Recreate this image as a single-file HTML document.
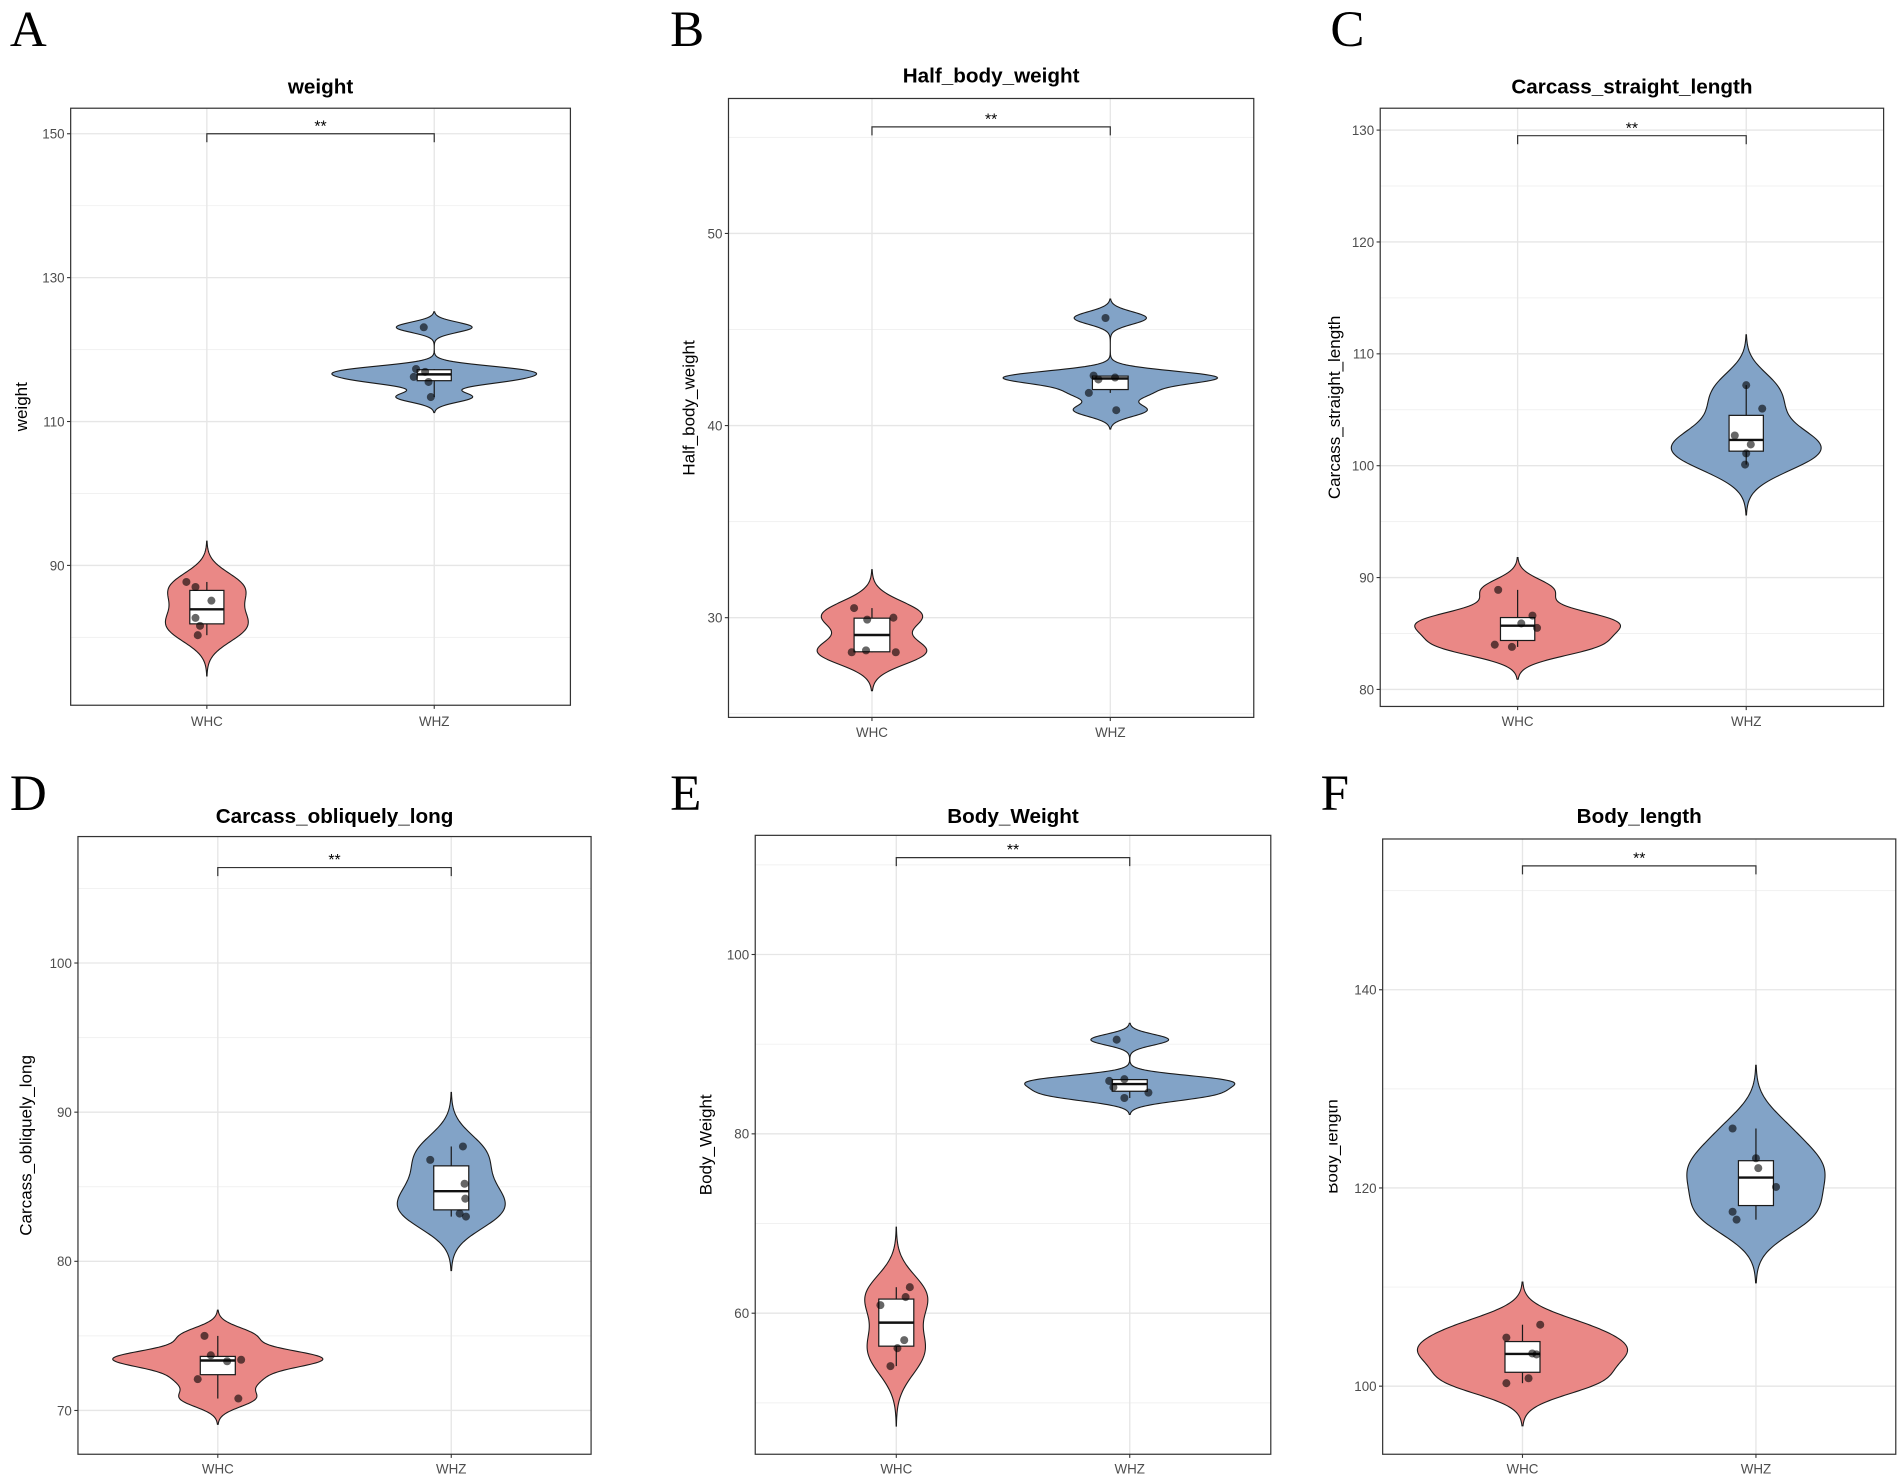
<!DOCTYPE html>
<html><head><meta charset="utf-8"><title>Violin plots</title>
<style>
html,body{margin:0;padding:0;background:#fff;}
svg{display:block;font-family:"Liberation Sans",Arial,sans-serif;}
</style></head>
<body>
<svg id="fig" width="1902" height="1481" viewBox="0 0 1564 1218" xmlns="http://www.w3.org/2000/svg">
<rect x="0" y="0" width="1564" height="1218" fill="#fff"/>
</svg>
<script>
// ---------- data ----------
const groups = ["WHC", "WHZ"];
const weightWHC = [87.7, 87.0, 85.1, 82.7, 81.6, 80.3];
const weightWHZ = [123.1, 117.3, 116.9, 116.2, 115.5, 113.4];
const halfWHC = [30.5, 30.0, 29.9, 28.2, 28.3, 28.2];
const halfWHZ = [45.6, 42.6, 42.4, 42.5, 41.7, 40.8];
const straightWHC = [88.9, 86.6, 85.9, 85.5, 84.0, 83.8];
const straightWHZ = [107.2, 105.1, 102.7, 101.9, 101.1, 100.1];
const obliqueWHC = [75.0, 73.7, 73.4, 73.3, 72.1, 70.8];
const obliqueWHZ = [87.7, 86.8, 85.2, 84.2, 83.2, 83.0];
const bodyWeightWHC = [62.9, 61.8, 60.9, 57.0, 56.1, 54.1];
const bodyWeightWHZ = [90.5, 86.1, 85.9, 85.2, 84.6, 84.0];
const bodyLengthWHC = [106.2, 104.9, 103.3, 103.2, 100.8, 100.3];
const bodyLengthWHZ = [126.0, 123.0, 122.0, 120.1, 117.6, 116.8];

const weightTicks = [90, 110, 130, 150];
const halfTicks = [30, 40, 50];
const straightTicks = [80, 90, 100, 110, 120, 130];
const obliqueTicks = [70, 80, 90, 100];
const bodyWeightTicks = [60, 80, 100];
const bodyLengthTicks = [100, 120, 140];

const bracketValues = [150, 55.55, 129.5, 106.4, 110.8, 152.5];
const signifLabels = ["**", "**", "**", "**", "**", "**"];

// jitter offsets (category units)
const jitterWeightWHC = [-0.09, -0.05, 0.02, -0.05, -0.03, -0.04];
const jitterWeightWHZ = [-0.046, -0.08, -0.04, -0.09, -0.025, -0.015];
const jitterHalfWHC = [-0.075, 0.09, -0.02, -0.085, -0.025, 0.1];
const jitterHalfWHZ = [-0.02, -0.07, -0.05, 0.02, -0.09, 0.025];
const jitterStraightWHC = [-0.085, 0.065, 0.016, 0.085, -0.1, -0.025];
const jitterStraightWHZ = [0, 0.07, -0.05, 0.02, 0, -0.005];
const jitterObliqueWHC = [-0.057, -0.03, 0.1, 0.04, -0.086, 0.088];
const jitterObliqueWHZ = [0.05, -0.09, 0.057, 0.06, 0.036, 0.063];
const jitterBodyWeightWHC = [0.058, 0.04, -0.068, 0.034, 0.005, -0.025];
const jitterBodyWeightWHZ = [-0.056, -0.023, -0.088, -0.07, 0.08, -0.023];
const jitterBodyLengthWHC = [0.076, -0.069, 0.042, 0.06, 0.026, -0.069];
const jitterBodyLengthWHZ = [-0.1, 0, 0.01, 0.086, -0.1, -0.083];

// ---------- layout (pixels, not data) ----------
const panels = [
 {key:"weight", title:"weight", letter:"A", lx:8, ly:38, x0:58, x1:469, y0:89, y1:580, cx:[170,357], t0:[90,465], t1:[150,110], tick:weightTicks, data:[weightWHC,weightWHZ], jit:[jitterWeightWHC,jitterWeightWHZ], labY:597, titleY:77, ylabX:22, clipX:0},
 {key:"half", title:"Half_body_weight", letter:"B", lx:551, ly:38, x0:599, x1:1031, y0:81, y1:590, cx:[717,913], t0:[30,508], t1:[50,192], tick:halfTicks, data:[halfWHC,halfWHZ], jit:[jitterHalfWHC,jitterHalfWHZ], labY:606, titleY:68, ylabX:571, clipX:0},
 {key:"straight", title:"Carcass_straight_length", letter:"C", lx:1094, ly:38, x0:1135, x1:1549, y0:89, y1:581, cx:[1248,1436], t0:[80,567], t1:[130,107], tick:straightTicks, data:[straightWHC,straightWHZ], jit:[jitterStraightWHC,jitterStraightWHZ], labY:597, titleY:77, ylabX:1102, clipX:0},
 {key:"oblique", title:"Carcass_obliquely_long", letter:"D", lx:8, ly:666, x0:64, x1:486, y0:688, y1:1196, cx:[179,371], t0:[70,1160], t1:[100,792], tick:obliqueTicks, data:[obliqueWHC,obliqueWHZ], jit:[jitterObliqueWHC,jitterObliqueWHZ], labY:1212, titleY:677, ylabX:26, clipX:0},
 {key:"bodyWeight", title:"Body_Weight", letter:"E", lx:551, ly:666, x0:621, x1:1045, y0:687, y1:1196, cx:[737,929], t0:[60,1080], t1:[100,785], tick:bodyWeightTicks, data:[bodyWeightWHC,bodyWeightWHZ], jit:[jitterBodyWeightWHC,jitterBodyWeightWHZ], labY:1212, titleY:677, ylabX:585, clipX:0},
 {key:"bodyLength", title:"Body_length", letter:"F", lx:1086, ly:666, x0:1137, x1:1559, y0:690, y1:1196, cx:[1252,1444], t0:[100,1140], t1:[140,814], tick:bodyLengthTicks, data:[bodyLengthWHC,bodyLengthWHZ], jit:[jitterBodyLengthWHC,jitterBodyLengthWHZ], labY:1212, titleY:677, ylabX:1100, clipX:1093}
];
const fills = ["#EA8886", "#82A3C7"];
const NS = "http://www.w3.org/2000/svg";
const svg = document.getElementById("fig");

function mk(tag, attrs, parent) {
  const e = document.createElementNS(NS, tag);
  for (const k in attrs) e.setAttribute(k, attrs[k]);
  (parent || svg).appendChild(e);
  return e;
}
function quantile(sorted, p) {
  const pos = (sorted.length - 1) * p, lo = Math.floor(pos), hi = Math.ceil(pos);
  return sorted[lo] + (sorted[hi] - sorted[lo]) * (pos - lo);
}
function sd(a) {
  const m = a.reduce((s, v) => s + v, 0) / a.length;
  return Math.sqrt(a.reduce((s, v) => s + (v - m) * (v - m), 0) / (a.length - 1));
}
function bwNrd0(a) {
  const s = a.slice().sort((x, y) => x - y);
  const iqr = quantile(s, 0.75) - quantile(s, 0.25);
  let lo = Math.min(sd(a), iqr / 1.34);
  if (!(lo > 0)) lo = sd(a) || 1;
  return 0.9 * lo * Math.pow(a.length, -0.2);
}
function dens(a, bw, y) {
  let s = 0;
  for (const v of a) { const z = (y - v) / bw; s += Math.exp(-0.5 * z * z); }
  return s / (a.length * bw * Math.sqrt(2 * Math.PI));
}

panels.forEach((P, pi) => {
  const g = mk("g", {});
  
  
  const yv = v => P.t0[1] + (v - P.t0[0]) * (P.t1[1] - P.t0[1]) / (P.t1[0] - P.t0[0]);
  const spacing = P.cx[1] - P.cx[0];
  const xc = (gi, off) => P.cx[gi] + off * spacing;

  const L = mk("text", {x:P.lx, y:P.ly, "font-family":"Liberation Serif, serif", "font-size":"42", fill:"#000"}, g);
  L.textContent = P.letter;
  
  
  const T = mk("text", {x:(P.x0 + P.x1) / 2, y:P.titleY, "text-anchor":"middle", "font-size":"17", "font-weight":"bold", fill:"#000"}, g);
  T.textContent = P.title;
  
  

  const step = P.tick[1] - P.tick[0];
  const gmin = P.tick[0] - step, gmax = P.tick[P.tick.length - 1] + step;
  for (let v = gmin; v <= gmax + 1e-9; v += step / 2) {
    const y = yv(v);
    if (y <= P.y0 + 1 || y >= P.y1 - 1) continue;
    const major = P.tick.some(t => Math.abs(t - v) < 1e-9);
    const ln = mk("line", {x1:P.x0, x2:P.x1, y1:y, y2:y, stroke:major ? "#e6e6e6" : "#f1f1f1", "stroke-width":major ? 1.1 : 0.8}, g);
    
    
  }
  P.cx.forEach(x => {
    const ln = mk("line", {x1:x, x2:x, y1:P.y0, y2:P.y1, stroke:"#e6e6e6", "stroke-width":1.1}, g);
    
    
  });

  P.tick.forEach(t => {
    const y = yv(t);
    const tk = mk("line", {x1:P.x0 - 3, x2:P.x0, y1:y, y2:y, stroke:"#333", "stroke-width":0.9}, g);
    
    
    const tl = mk("text", {x:P.x0 - 5, y:y + 4, "text-anchor":"end", "font-size":"11", fill:"#4d4d4d"}, g);
    tl.textContent = t;
    
    
  });
  groups.forEach((gname, gi) => {
    const tk = mk("line", {x1:P.cx[gi], x2:P.cx[gi], y1:P.y1, y2:P.y1 + 3, stroke:"#333", "stroke-width":0.9}, g);
    
    
    const tl = mk("text", {x:P.cx[gi], y:P.labY, "text-anchor":"middle", "font-size":"11", fill:"#4d4d4d"}, g);
    tl.textContent = gname;
    
    
  });
  const ymid = (P.y0 + P.y1) / 2;
  let ylabParent = g;
  if (P.clipX) {
    const cp = mk("clipPath", {id:"clip" + pi}, g);
    mk("rect", {x:P.clipX, y:P.y0, width:100, height:P.y1 - P.y0}, cp);
    ylabParent = mk("g", {"clip-path":"url(#clip" + pi + ")"}, g);
  }
  const YT = mk("text", {x:P.ylabX, y:ymid, "text-anchor":"middle", "font-size":"14", fill:"#000", transform:"rotate(-90 " + P.ylabX + " " + ymid + ")"}, ylabParent);
  YT.textContent = P.title;
  
  

  const stats = P.data.map(arr => {
    const bw = bwNrd0(arr);
    const lo = Math.min(...arr) - 3 * bw, hi = Math.max(...arr) + 3 * bw;
    const ys = [], ds = [];
    for (let i = 0; i <= 160; i++) { const v = lo + (hi - lo) * i / 160; ys.push(v); ds.push(dens(arr, bw, v)); }
    return {ys, ds};
  });
  const maxD = Math.max(...stats.map(s => Math.max(...s.ds)));
  stats.forEach((s, gi) => {
    const half = d => d / maxD * 0.45 * spacing;
    let d = "";
    s.ys.forEach((v, i) => { d += (i ? "L" : "M") + (P.cx[gi] + half(s.ds[i])).toFixed(2) + "," + yv(v).toFixed(2); });
    for (let i = s.ys.length - 1; i >= 0; i--) d += "L" + (P.cx[gi] - half(s.ds[i])).toFixed(2) + "," + yv(s.ys[i]).toFixed(2);
    d += "Z";
    const vp = mk("path", {d, fill:fills[gi], stroke:"#1a1a1a", "stroke-width":0.9}, g);
    
    
  });

  P.data.forEach((arr, gi) => {
    const s = arr.slice().sort((a, b) => a - b);
    const q1 = quantile(s, 0.25), q2 = quantile(s, 0.5), q3 = quantile(s, 0.75), iqr = q3 - q1;
    const wLo = Math.min(...s.filter(v => v >= q1 - 1.5 * iqr));
    const wHi = Math.max(...s.filter(v => v <= q3 + 1.5 * iqr));
    const bx = P.cx[gi], hw = 0.075 * spacing;
    const w1 = mk("line", {x1:bx, x2:bx, y1:yv(wHi), y2:yv(q3), stroke:"#1a1a1a", "stroke-width":1}, g);
    
    
    const w2 = mk("line", {x1:bx, x2:bx, y1:yv(q1), y2:yv(wLo), stroke:"#1a1a1a", "stroke-width":1}, g);
    
    
    const r = mk("rect", {x:bx - hw, y:yv(q3), width:2 * hw, height:Math.max(yv(q1) - yv(q3), 0.5), fill:"#fff", stroke:"#1a1a1a", "stroke-width":1}, g);
    
    
    const m = mk("line", {x1:bx - hw, x2:bx + hw, y1:yv(q2), y2:yv(q2), stroke:"#111", "stroke-width":2}, g);
    
    
  });

  P.data.forEach((arr, gi) => {
    arr.forEach((v, i) => {
      const c = mk("circle", {cx:xc(gi, P.jit[gi][i] || 0), cy:yv(v), r:3.3, fill:"#000", "fill-opacity":0.6}, g);
      
      
    });
  });

  const by = yv(bracketValues[pi]);
  const br = mk("path", {d:"M" + P.cx[0] + "," + (by + 7) + "V" + by + "H" + P.cx[1] + "V" + (by + 7), fill:"none", stroke:"#333", "stroke-width":1}, g);
  
  
  const st = mk("text", {x:(P.cx[0] + P.cx[1]) / 2, y:by - 2, "text-anchor":"middle", "font-size":"13", fill:"#000"}, g);
  st.textContent = signifLabels[pi];
  
  

  const fr = mk("rect", {x:P.x0, y:P.y0, width:P.x1 - P.x0, height:P.y1 - P.y0, fill:"none", stroke:"#333", "stroke-width":1}, g);
  
  
});
</script>
</body></html>
